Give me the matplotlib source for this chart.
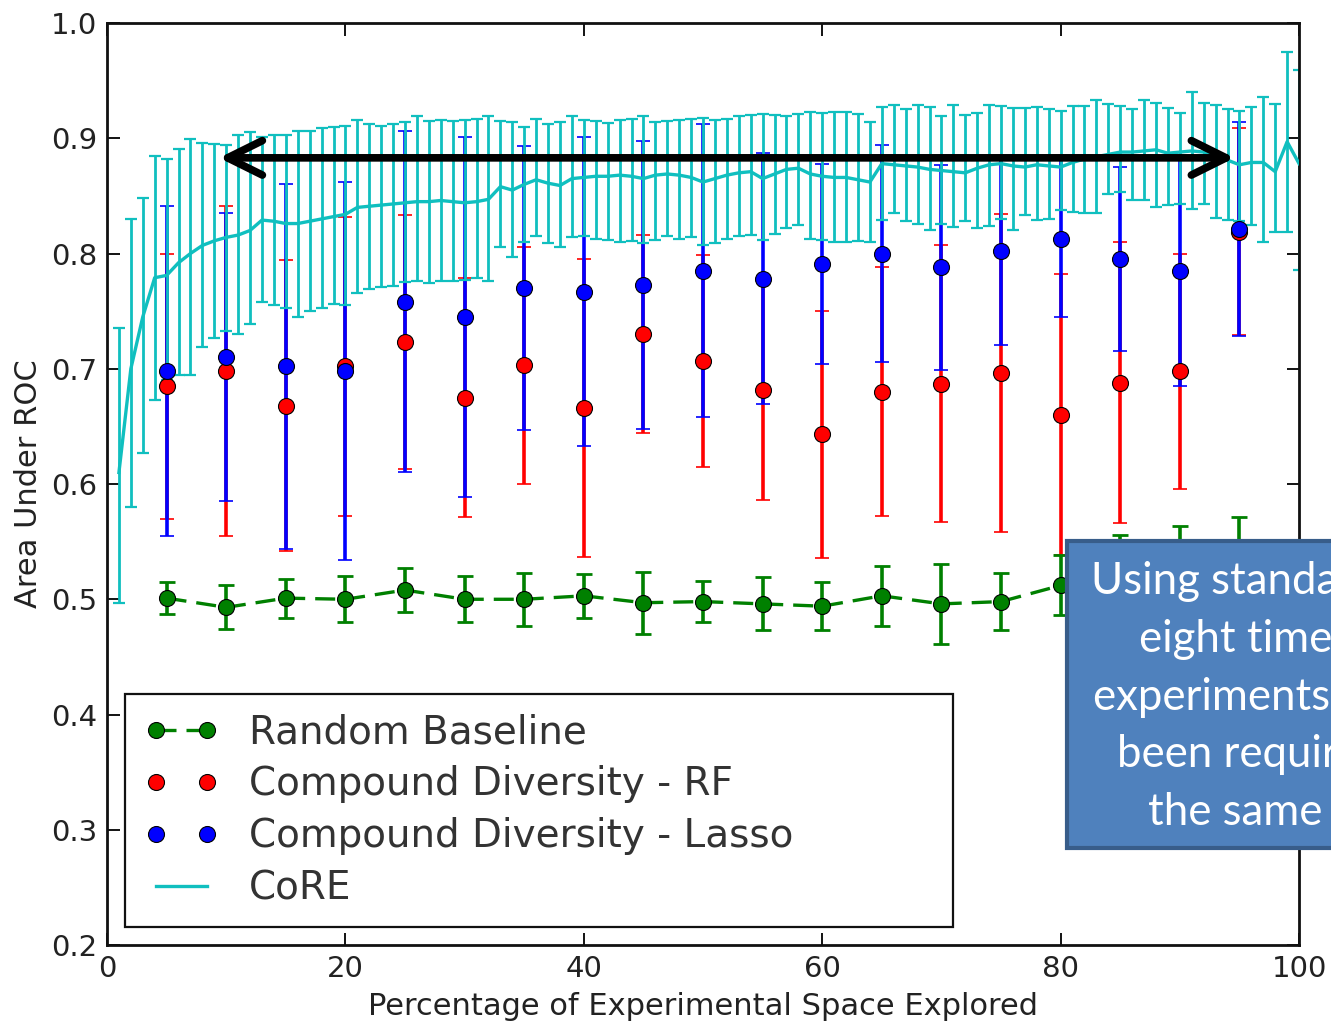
import numpy as np
import matplotlib
matplotlib.use("Agg")
import matplotlib.pyplot as plt
from matplotlib.patches import Rectangle

# ── data ─────────────────────────────────────────────────
core_x = np.arange(1, 101)
core_mean = [
    0.610, 0.700, 0.745, 0.779, 0.781, 0.792, 0.800, 0.807, 0.811, 0.814,
    0.816, 0.820, 0.829, 0.828, 0.826, 0.826, 0.828, 0.830, 0.832, 0.834,
    0.840, 0.841, 0.842, 0.843, 0.844, 0.845, 0.845, 0.846, 0.845, 0.844,
    0.845, 0.847, 0.858, 0.855, 0.860, 0.864, 0.861, 0.859, 0.865, 0.866,
    0.867, 0.867, 0.868, 0.867, 0.865, 0.868, 0.869, 0.868, 0.866, 0.862,
    0.865, 0.868, 0.870, 0.871, 0.865, 0.869, 0.873, 0.874, 0.869, 0.867,
    0.866, 0.866, 0.864, 0.862, 0.878, 0.877, 0.876, 0.875, 0.873, 0.872,
    0.871, 0.870, 0.874, 0.877, 0.878, 0.876, 0.875, 0.877, 0.876, 0.875,
    0.879, 0.882, 0.884, 0.886, 0.888, 0.888, 0.889, 0.890, 0.887, 0.888,
    0.889, 0.888, 0.886, 0.881, 0.877, 0.879, 0.879, 0.871, 0.897, 0.878,
]
core_upper = [
    0.735, 0.830, 0.848, 0.885, 0.882, 0.891, 0.899, 0.896, 0.895, 0.894,
    0.903, 0.905, 0.901, 0.903, 0.903, 0.906, 0.906, 0.909, 0.910, 0.911,
    0.916, 0.912, 0.911, 0.912, 0.914, 0.919, 0.915, 0.916, 0.915, 0.916,
    0.917, 0.919, 0.915, 0.914, 0.910, 0.917, 0.912, 0.914, 0.919, 0.916,
    0.915, 0.913, 0.916, 0.917, 0.919, 0.914, 0.915, 0.916, 0.917, 0.918,
    0.916, 0.917, 0.919, 0.920, 0.921, 0.920, 0.919, 0.921, 0.923, 0.922,
    0.923, 0.923, 0.921, 0.914, 0.927, 0.929, 0.925, 0.929, 0.927, 0.919,
    0.929, 0.920, 0.922, 0.929, 0.928, 0.926, 0.926, 0.927, 0.925, 0.924,
    0.928, 0.928, 0.933, 0.930, 0.928, 0.925, 0.933, 0.931, 0.926, 0.922,
    0.940, 0.931, 0.929, 0.925, 0.924, 0.927, 0.936, 0.930, 0.975, 0.959,
]
core_lower = [
    0.497, 0.580, 0.627, 0.673, 0.690, 0.695, 0.695, 0.719, 0.727, 0.733,
    0.730, 0.739, 0.758, 0.755, 0.753, 0.745, 0.750, 0.753, 0.756, 0.755,
    0.766, 0.769, 0.771, 0.772, 0.775, 0.776, 0.774, 0.776, 0.776, 0.777,
    0.779, 0.776, 0.806, 0.797, 0.810, 0.815, 0.809, 0.806, 0.814, 0.815,
    0.813, 0.812, 0.810, 0.811, 0.809, 0.812, 0.815, 0.813, 0.814, 0.807,
    0.809, 0.813, 0.815, 0.816, 0.812, 0.817, 0.822, 0.825, 0.813, 0.812,
    0.810, 0.810, 0.811, 0.810, 0.829, 0.835, 0.828, 0.826, 0.820, 0.826,
    0.823, 0.828, 0.822, 0.824, 0.830, 0.820, 0.833, 0.829, 0.830, 0.838,
    0.836, 0.835, 0.835, 0.852, 0.853, 0.846, 0.846, 0.840, 0.842, 0.843,
    0.839, 0.843, 0.831, 0.829, 0.828, 0.825, 0.810, 0.819, 0.819, 0.786,
]

pct = [5, 10, 15, 20, 25, 30, 35, 40, 45, 50, 55, 60, 65, 70, 75, 80, 85, 90, 95]

rf_mean = [0.685, 0.698, 0.668, 0.702, 0.723, 0.675, 0.703, 0.666, 0.730, 0.707,
           0.682, 0.643, 0.680, 0.687, 0.696, 0.660, 0.688, 0.698, 0.819]
rf_err = [0.115, 0.143, 0.126, 0.130, 0.110, 0.104, 0.103, 0.129, 0.086, 0.092,
          0.096, 0.107, 0.108, 0.120, 0.138, 0.122, 0.122, 0.102, 0.090]

lasso_mean = [0.698, 0.710, 0.702, 0.698, 0.758, 0.745, 0.770, 0.767, 0.773, 0.785,
              0.778, 0.791, 0.800, 0.788, 0.802, 0.813, 0.795, 0.785, 0.821]
lasso_err = [0.143, 0.125, 0.158, 0.164, 0.148, 0.156, 0.123, 0.134, 0.125, 0.127,
             0.109, 0.087, 0.094, 0.089, 0.081, 0.068, 0.080, 0.100, 0.093]

rand_mean = [0.501, 0.493, 0.501, 0.500, 0.508, 0.500, 0.500, 0.503, 0.497, 0.498,
             0.496, 0.494, 0.503, 0.496, 0.498, 0.512, 0.527, 0.534, 0.540]
rand_err = [0.014, 0.019, 0.017, 0.020, 0.019, 0.020, 0.023, 0.019, 0.027, 0.018,
            0.023, 0.021, 0.026, 0.035, 0.025, 0.026, 0.029, 0.030, 0.031]

xticks = [0, 20, 40, 60, 80, 100]
yticks = [0.2, 0.3, 0.4, 0.5, 0.6, 0.7, 0.8, 0.9, 1.0]

# span of the double-headed arrow (pct explored, AUC)
arrow_from = 9.4
arrow_to = 94.6
arrow_y = 0.883

box_lines = [
    "Using standard methods,",
    "eight times more",
    "experiments would have",
    "been required to reach",
    "the same accuracy",
]

TXT = "#222222"

plt.rcParams["font.family"] = ["DejaVu Sans"]
plt.rcParams["xtick.direction"] = "in"
plt.rcParams["ytick.direction"] = "in"

fig = plt.figure(figsize=(13.31, 10.22), dpi=100)
ax = fig.add_axes([0.0804, 0.0753, 0.8956, 0.9022])

# error bars first, CoRE bars over the diversity bars
ax.errorbar(pct, rf_mean, yerr=rf_err, fmt="none", ecolor="r",
            elinewidth=2.6, capsize=5, capthick=1.2, zorder=2)
ax.errorbar(pct, lasso_mean, yerr=lasso_err, fmt="none", ecolor="b",
            elinewidth=2.6, capsize=5, capthick=1.2, zorder=2.1)
ax.errorbar(pct, rand_mean, yerr=rand_err, fmt="none", ecolor="g",
            elinewidth=2.6, capsize=5.5, capthick=2, zorder=2)

core_mean_a = np.array(core_mean)
core_yerr = [core_mean_a - np.array(core_lower), np.array(core_upper) - core_mean_a]
ax.errorbar(core_x, core_mean, yerr=core_yerr, fmt="none", ecolor="#10BFBF",
            elinewidth=2.0, capsize=4.5, capthick=1.6, zorder=2.5)

# means (these make the legend)
ax.plot(pct, rand_mean, "o--", color="g", lw=2.4, ms=11.5, mec="k", mew=0.8,
        dashes=(6, 3), label="Random Baseline", zorder=3)
ax.plot(pct, rf_mean, "o", color="r", ms=11.5, mec="k", mew=0.8,
        label="Compound Diversity - RF", zorder=3)
ax.plot(pct, lasso_mean, "o", color="b", ms=11.5, mec="k", mew=0.8,
        label="Compound Diversity - Lasso", zorder=3.1)
ax.plot(core_x, core_mean, "-", color="#10BFBF", lw=2.4, label="CoRE", zorder=3)

ax.annotate("", xy=(arrow_to, arrow_y), xytext=(arrow_from, arrow_y),
            arrowprops=dict(arrowstyle="<->,head_length=1.25,head_width=0.62",
                            lw=5.5, color="k", shrinkA=0, shrinkB=0,
                            mutation_scale=20, capstyle="round", joinstyle="round"),
            zorder=5)

ax.set_xlim(0, 100)
ax.set_ylim(0.2, 1.0)
ax.set_xticks(xticks)
ax.set_yticks(yticks)
ax.set_yticklabels([f"{v:.1f}" for v in yticks])
ax.tick_params(which="both", top=True, right=True, length=9, width=1.3,
               labelsize=21, labelcolor=TXT, pad=7)
for sp in ax.spines.values():
    sp.set_linewidth(2)
    sp.set_color("#111111")

ax.set_xlabel("Percentage of Experimental Space Explored", fontsize=22,
              color=TXT, labelpad=7)
ax.set_ylabel("Area Under ROC", fontsize=22, color=TXT, labelpad=6)

leg = ax.legend(loc="lower left", bbox_to_anchor=(0.015, 0.02, 0.695, 0.25),
                mode="expand", borderaxespad=0, numpoints=2, fontsize=28,
                labelspacing=0.36, handlelength=1.9, handletextpad=0.8,
                borderpad=0.5, fancybox=False, framealpha=1)
leg.get_frame().set_edgecolor("#111111")
leg.get_frame().set_linewidth(1.6)
for t in leg.get_texts():
    t.set_color("#333333")

# callout box pasted over the chart, runs off the right edge as in the slide
fig.add_artist(Rectangle((0.8015, 0.170), 0.30, 0.3006, transform=fig.transFigure,
                         facecolor="#4F81BD", edgecolor="#385D8A", lw=3, zorder=10))
line_left = [1091, 1139, 1093, 1117, 1148]
line_base = [594, 652, 710, 767, 825]
for txt, lx, by in zip(box_lines, line_left, line_base):
    fig.text(lx / 1331, 1 - by / 1022, txt, color="white", fontsize=31.5,
             family=["Lato", "DejaVu Sans"], ha="left", va="baseline", zorder=11)

fig.savefig("out.png", dpi=100)
plt.close(fig)
